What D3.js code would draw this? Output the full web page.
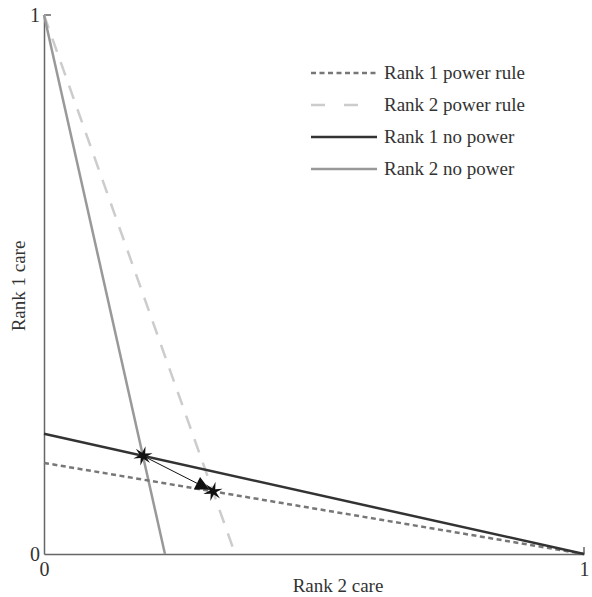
<!DOCTYPE html>
<html>
<head>
<meta charset="utf-8">
<script src="https://cdn.jsdelivr.net/npm/d3@7"></script>
<style>
  body { margin: 0; background: #fff; }
</style>
</head>
<body>
<div id="chart"></div>
<script>
// intercepts of each best-response line: [x at y=0, y at x=0]
var seriesNames = ["Rank 1 power rule", "Rank 2 power rule", "Rank 1 no power", "Rank 2 no power"];
var xIntercepts = [1, 0.354, 1, 0.224];
var yIntercepts = [0.169, 1, 0.223, 1];
var seriesColors = ["#777", "#ccc", "#333", "#999"];
var seriesDash = ["5,3.5", "14,11", null, null];
var tickValues = [0, 1];

var serif = "'Liberation Serif', 'DejaVu Serif', serif";
var width = 592, height = 597;
var svg = d3.select("#chart").append("svg")
  .attr("width", width)
  .attr("height", height)
  .style("font-family", serif);

var x = d3.scaleLinear().domain([0, 1]).range([44, 584]);
var y = d3.scaleLinear().domain([0, 1]).range([554, 15]);

// axes
var xAxis = d3.axisBottom(x).tickValues(tickValues).tickSize(0).tickPadding(10).tickFormat(d3.format("d"));
var yAxis = d3.axisLeft(y).tickValues(tickValues).tickSize(0).tickPadding(4).tickFormat(d3.format("d"));

var gx = svg.append("g").attr("transform", "translate(0," + y(0) + ")").call(xAxis);
var gy = svg.append("g").attr("transform", "translate(" + x(0) + ",0)").call(yAxis);
[gx, gy].forEach(function(g) {
  g.attr("font-family", null);
  g.select(".domain").attr("stroke", "#666").attr("stroke-width", 1.5);
  g.selectAll(".tick text").style("font-family", serif).style("font-size", "20px").attr("fill", "#333");
});
gx.selectAll(".tick text").attr("dy", "0.62em");
gy.selectAll(".tick text").attr("dy", "0.3em");

// small inward ticks at 1
svg.append("line").attr("x1", x(0)).attr("x2", x(0) + 7).attr("y1", y(1)).attr("y2", y(1))
  .attr("stroke", "#666").attr("stroke-width", 1.5);
svg.append("line").attr("x1", x(1)).attr("x2", x(1)).attr("y1", y(0)).attr("y2", y(0) - 7)
  .attr("stroke", "#666").attr("stroke-width", 1.5);

svg.append("text").attr("x", 338).attr("y", 592)
  .attr("text-anchor", "middle").style("font-family", serif).style("font-size", "19px")
  .attr("fill", "#333").text("Rank 2 care");
svg.append("text").attr("transform", "translate(25,286) rotate(-90)")
  .attr("text-anchor", "middle").style("font-family", serif).style("font-size", "19px")
  .attr("fill", "#333").text("Rank 1 care");

// lines (draw order: light first)
var order = [1, 3, 0, 2];
order.forEach(function(i) {
  svg.append("line")
    .attr("x1", x(0)).attr("y1", y(yIntercepts[i]))
    .attr("x2", x(xIntercepts[i])).attr("y2", y(0))
    .attr("stroke", seriesColors[i])
    .attr("stroke-width", 2.5)
    .attr("stroke-dasharray", seriesDash[i]);
});

// intersections of rank 1 and rank 2 lines
function intersect(i, j) {
  // line: y = b(1 - x/a)
  var a1 = xIntercepts[i], b1 = yIntercepts[i], a2 = xIntercepts[j], b2 = yIntercepts[j];
  var xx = (b1 - b2) / (b1 / a1 - b2 / a2);
  return [xx, b1 * (1 - xx / a1)];
}
var p1 = intersect(2, 3);
var p2 = intersect(0, 1);

// arrow
svg.append("defs").append("marker")
  .attr("id", "arrow").attr("viewBox", "0 0 10 10")
  .attr("refX", 10).attr("refY", 5)
  .attr("markerWidth", 22).attr("markerHeight", 14)
  .attr("markerUnits", "userSpaceOnUse")
  .attr("orient", "auto")
  .append("path").attr("d", "M0,0L10,5L0,10z").attr("fill", "#111");

var dx = x(p2[0]) - x(p1[0]), dy = y(p2[1]) - y(p1[1]);
var len = Math.sqrt(dx * dx + dy * dy);
svg.append("line")
  .attr("x1", x(p1[0])).attr("y1", y(p1[1]))
  .attr("x2", x(p1[0]) + dx * (len - 4) / len).attr("y2", y(p1[1]) + dy * (len - 4) / len)
  .attr("stroke", "#111").attr("stroke-width", 1)
  .attr("marker-end", "url(#arrow)");

// six-pointed stars
function star(r1, r2) {
  var pts = d3.range(12).map(function(k) {
    var ang = k * Math.PI / 6 - Math.PI / 2;
    var r = k % 2 ? r2 : r1;
    return [r * Math.cos(ang), r * Math.sin(ang)];
  });
  return "M" + pts.join("L") + "Z";
}
[p1, p2].forEach(function(p) {
  svg.append("path")
    .attr("d", star(10, 3.2))
    .attr("transform", "translate(" + x(p[0]) + "," + y(p[1]) + ") rotate(15)")
    .attr("fill", "#111");
});

// legend
var legend = svg.append("g").attr("transform", "translate(311,73)");
seriesNames.forEach(function(name, i) {
  var row = legend.append("g").attr("transform", "translate(0," + (i * 32) + ")");
  row.append("line").attr("x1", 0).attr("x2", 66).attr("y1", 0).attr("y2", 0)
    .attr("stroke", seriesColors[i]).attr("stroke-width", 2.5)
    .attr("stroke-dasharray", i === 1 ? "14,19" : seriesDash[i]);
  row.append("text").attr("x", 73).attr("y", 0).attr("dy", "0.32em")
    .style("font-family", serif).style("font-size", "19px")
    .attr("fill", "#333").text(name);
});
</script>
</body>
</html>
